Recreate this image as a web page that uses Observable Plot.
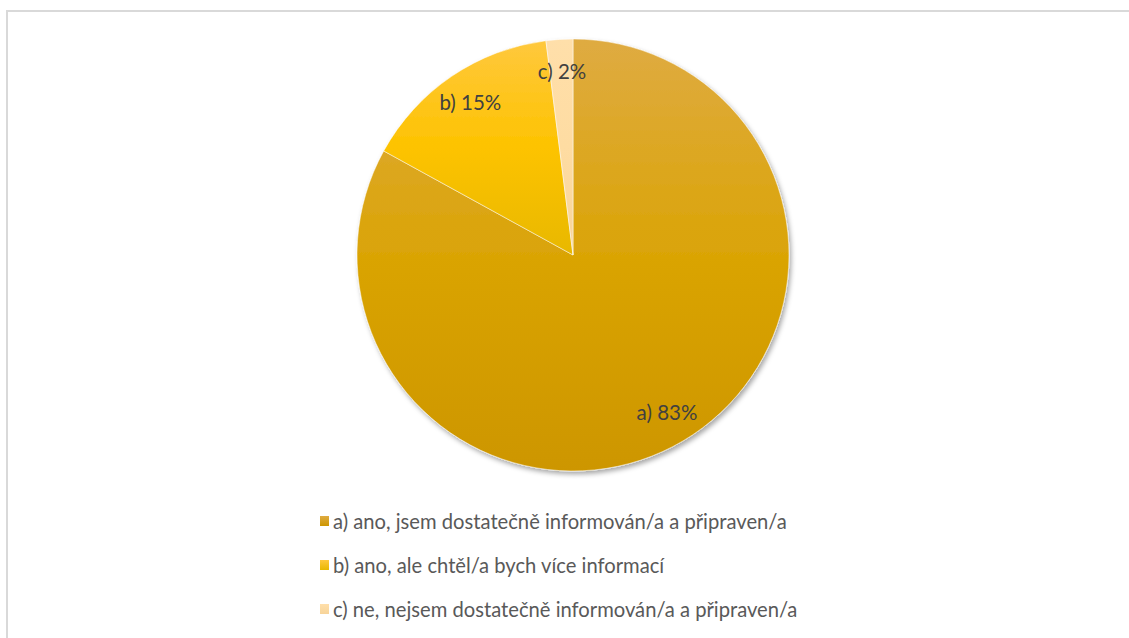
<!DOCTYPE html>
<html>
<head>
<meta charset="utf-8">
<script src="https://cdn.jsdelivr.net/npm/d3@7"></script>
<script src="https://cdn.jsdelivr.net/npm/@observablehq/plot@0.6"></script>
<style>
  html, body { margin: 0; padding: 0; background: #fff; }
  #frame { position: absolute; left: 6px; top: 10px; right: -10px; bottom: -10px;
           border-top: 2px solid #d9d9d9; border-left: 2px solid #d9d9d9; }
  #chart { position: absolute; left: 0; top: 0; }
  #legend { position: absolute; left: 320px; top: 499px; font-family: Lato, "Noto Sans", sans-serif;
            font-size: 20.2px; color: #595959; }
  .item { height: 44px; line-height: 44px; white-space: nowrap; display: flex; align-items: center; }
  .sw { width: 9px; height: 10px; margin-right: 4px; display: inline-block; }
</style>
</head>
<body>
<div id="frame"></div>
<div id="chart"></div>
<div id="legend"></div>
<script>
// ---- data ----
const categories = ["a)", "b)", "c)"];
const values = [83, 15, 2];
const legendLabels = [
  "a) ano, jsem dostatečně informován/a a připraven/a",
  "b) ano, ale chtěl/a bych více informací",
  "c) ne, nejsem dostatečně informován/a a připraven/a"
];
// ---- styles ----
const colorsTop = ["#dfab42", "#ffc83d", "#ffdfaa"];
const colorsMid = ["#daa406", "#fdc300", "#fedca2"];
const colorsBottom = ["#cd9600", "#e8b800", "#f7d49a"];

const W = 1129, H = 490;
const total = d3.sum(values);
const arcs = d3.pie().sort(null).value(d => d)(values);
const slices = arcs.map((a, i) => ({
  i, cat: categories[i], value: values[i],
  start: a.startAngle, end: a.endAngle,
  mid: (a.startAngle + a.endAngle) / 2,
  label: `${categories[i]} ${Math.round(values[i] / total * 100)}%`
}));
const labelR = 0.85;
slices.forEach(s => { s.lx = labelR * Math.sin(s.mid); s.ly = labelR * Math.cos(s.mid); });

function pieMark(index, scales, values_, dimensions, context) {
  const ns = "http://www.w3.org/2000/svg";
  const g = d3.select(context.document.createElementNS(ns, "g"));
  const defs = g.append("defs");
  const f = defs.append("filter").attr("id", "shadow").attr("x", "-10%").attr("y", "-10%")
    .attr("width", "130%").attr("height", "130%");
  f.append("feDropShadow").attr("dx", 2).attr("dy", 3).attr("stdDeviation", 2.5)
    .attr("flood-color", "#000").attr("flood-opacity", 0.35);
  slices.forEach(s => {
    const lg = defs.append("linearGradient").attr("id", "grad" + s.i)
      .attr("x1", 0).attr("y1", 0).attr("x2", 0).attr("y2", 1);
    lg.append("stop").attr("offset", "0%").attr("stop-color", colorsTop[s.i]);
    lg.append("stop").attr("offset", "50%").attr("stop-color", colorsMid[s.i]);
    lg.append("stop").attr("offset", "100%").attr("stop-color", colorsBottom[s.i]);
  });
  const cx = scales.x(0), cy = scales.y(0);
  const r = scales.x(1) - scales.x(0);
  const arc = d3.arc().innerRadius(0).outerRadius(r);
  const pg = g.append("g").attr("transform", `translate(${cx},${cy})`).attr("filter", "url(#shadow)");
  pg.selectAll("path").data(slices).join("path")
    .attr("d", s => arc({startAngle: s.start, endAngle: s.end}))
    .attr("fill", s => `url(#grad${s.i})`)
    .attr("stroke", "#fff").attr("stroke-width", 0.5);
  return g.node();
}

const plot = Plot.plot({
  width: W, height: H,
  marginLeft: 357, marginRight: W - 789, marginTop: 39, marginBottom: H - 471,
  x: { domain: [-1, 1], axis: null },
  y: { domain: [-1, 1], axis: null },
  style: { background: "transparent", fontFamily: "Lato, 'Noto Sans', sans-serif" },
  marks: [
    pieMark,
    Plot.text(slices, { x: "lx", y: "ly", text: "label", fontSize: 20.5, fill: "#404040" })
  ]
});
document.getElementById("chart").appendChild(plot);

const legend = d3.select("#legend");
legendLabels.forEach((t, i) => {
  const it = legend.append("div").attr("class", "item");
  it.append("span").attr("class", "sw")
    .style("background", `linear-gradient(${colorsTop[i]}, ${colorsBottom[i]})`);
  it.append("span").text(t);
});
</script>
</body>
</html>
